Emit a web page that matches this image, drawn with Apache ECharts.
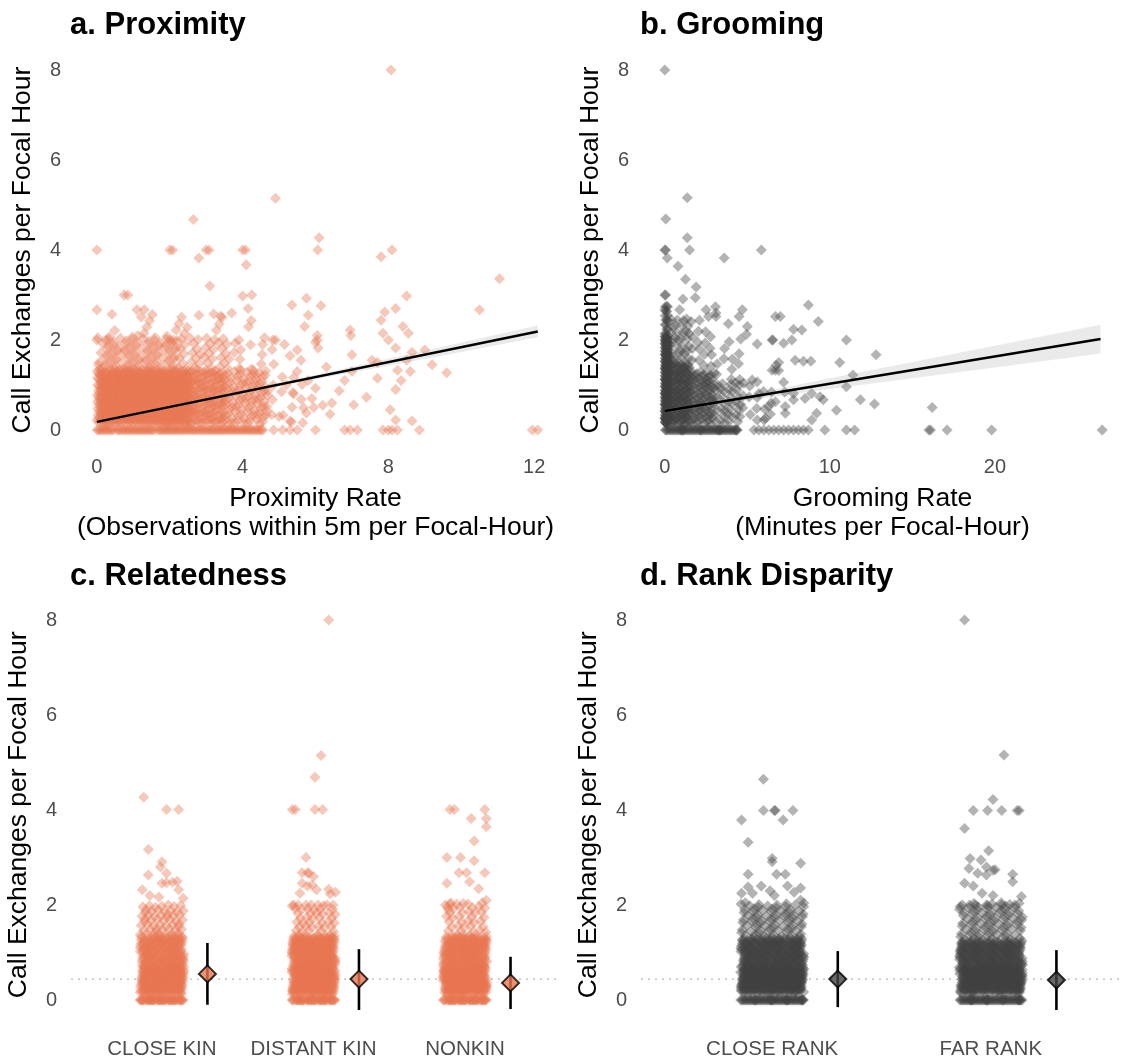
<!DOCTYPE html>
<html>
<head>
<meta charset="utf-8">
<script src="https://cdn.jsdelivr.net/npm/echarts@6/dist/echarts.min.js"></script>
<style>
html,body{margin:0;padding:0;background:#fff;}
#chart{width:1122px;height:1061px;}
</style>
</head>
<body>
<div id="chart"></div>
<script>
// ---------------- DATA ----------------
const yTicks = [0, 2, 4, 6, 8];
const proxTicks = [0, 4, 8, 12];
const groomTicks = [0, 10, 20];
const relCats = ['CLOSE KIN', 'DISTANT KIN', 'NONKIN'];
const rankCats = ['CLOSE RANK', 'FAR RANK'];

// Panel a: individual (sparse) points [proximity rate, call exchanges]
const proxPoints = [
 [8.07,8.0],[4.9,5.15],[2.65,4.68],[6.1,4.27],[0,4.0],[2.0,4.0],[2.08,4.0],[3.0,4.0],[3.08,4.0],[4.0,4.0],[4.08,4.0],[6.06,4.0],[8.1,4.0],
 [2.8,3.82],[4.1,3.67],[7.8,3.85],[11.05,3.36],[3.1,3.2],[4.0,2.98],[4.25,3.0],[0.75,3.0],[0.85,3.0],[5.35,2.78],[5.75,2.93],[6.15,2.76],
 [0,2.67],[1.1,2.67],[1.3,2.67],[10.5,2.67],[8.2,2.7],[8.5,2.98],[7.9,2.62],[2.8,2.55],[3.4,2.53],[3.7,2.6],[4.15,2.7],[5.7,2.3],[5.8,2.55],
 [6.95,2.22],[6.97,2.1],[7.8,2.44],[7.85,2.15],[8.0,2.0],[8.2,1.82],[8.4,2.3],[8.55,2.15],[7.0,1.67],[7.55,1.55],[7.7,1.5],[7.7,1.15],
 [8.25,1.33],[8.2,0.9],[8.35,1.1],[8.5,1.55],[8.6,1.3],[8.65,1.73],[9.0,1.78],[9.2,1.45],[9.6,1.27],[8.05,0.45],[8.2,0.22],[8.65,0.2],
 [6.65,0.87],[7.05,0.56],[6.45,0.6],[7.4,0.73],[7.0,1.3],[6.8,1.1],[6.0,0.93],[5.95,0.5],[6.2,0.55],[5.75,0.38],[6.05,2.1],[6.07,1.82],
 [6.0,1.95],[6.05,2.0],[5.15,1.9],[5.5,1.78],[5.6,1.55],[5.3,1.65],[4.9,2.0],[4.6,2.05],[4.55,1.9],[5.2,1.0],[5.4,0.8],[5.5,1.3],[5.8,1.1],
 [6.3,1.4],[5.0,0.3],[5.3,0.2],[6.4,0.35],[5.9,0.7],[0,2.0],[0.25,2.0],[2.0,2.0],[2.1,2.0],[3.9,2.0],
 [5.3,0],[5.5,0],[6.0,0],[6.8,0],[6.95,0],[7.15,0],[7.85,0],[8.0,0],[8.1,0],[8.25,0],[8.85,0],[11.95,0],[12.1,0],[4.85,0],[5.1,0]
];
// Panel a: dense core read as counts per region [xFrom, xTo, yFrom, yTo, count]
const proxDensity = [
 [0, 4.6, 0, 0, 100],
 [0, 2.6, 0.12, 1.35, 620],
 [2.6, 3.5, 0.12, 1.35, 130],
 [3.5, 4.7, 0.12, 1.35, 100],
 [0, 2.2, 1.35, 2.1, 90],
 [2.2, 3.8, 1.35, 2.1, 40],
 [3.8, 5.0, 1.35, 2.1, 10],
 [0.4, 4.3, 2.1, 2.6, 18],
 [4.7, 5.8, 0.12, 1.3, 14]
];
const proxFitX = [0, 12.1];
const proxFitY = [0.18, 2.19];
const proxBandX = [0, 3, 6, 9, 12.1];
const proxBandHi = [0.22, 0.71, 1.23, 1.76, 2.32];
const proxBandLo = [0.14, 0.65, 1.13, 1.58, 2.06];

// Panel b: individual (sparse) points [grooming rate, call exchanges]
const groomPoints = [
 [0,8.0],[0.06,4.69],[1.36,5.16],[1.36,4.27],[0,4.0],[0.05,4.0],[1.5,4.0],[5.85,4.0],[0.15,3.82],[3.6,3.82],[0.8,3.64],[1.25,3.35],
 [1.9,3.18],[0,3.0],[0.05,3.0],[1.1,2.91],[1.85,2.94],[8.7,2.78],[0,2.67],[0.9,2.67],[2.5,2.67],[3.07,2.74],[3.1,2.6],[4.7,2.67],
 [6.7,2.52],[7.0,2.52],[9.3,2.41],[8.3,2.22],[7.8,2.24],[11.0,2.0],[6.5,2.0],[6.55,2.0],[7.2,1.93],[7.7,2.0],[12.8,1.67],[10.6,1.5],
 [7.9,1.55],[8.4,1.53],[8.85,1.53],[6.5,1.33],[6.75,1.44],[6.9,1.32],[7.2,1.06],[11.4,1.22],[11.0,0.96],[11.85,0.67],[12.7,0.58],
 [16.2,0.5],[8.9,0.81],[9.4,0.74],[9.6,0.67],[7.8,0.67],[7.3,0.52],[7.3,0.37],[9.2,0.37],[8.9,0.22],[10.4,0.44],
 [3.85,2.36],[4.5,2.52],[5.0,2.3],[4.6,2.02],[5.6,1.91],[4.95,2.13],[3.1,2.52],[2.65,2.52],[2.1,2.44],[1.6,2.41],[3.9,1.96],
 [5.6,1.07],[5.3,1.11],[6.7,1.33],[6.9,1.5],[7.27,0.84],[7.8,0.81],[8.5,0.7],[5.7,0.81],[6.3,0.52],[6.7,0.63],[5.6,0.22],[6.1,0.26],
 [5.4,0],[5.7,0],[6.0,0],[6.3,0],[6.6,0],[6.9,0],[7.2,0],[7.5,0],[7.8,0],[8.1,0],[8.4,0],[8.7,0],[9.7,0],[11.0,0],[11.5,0],
 [16.0,0],[16.1,0],[17.1,0],[19.8,0],[26.5,0]
];
const groomDensity = [
 [0, 4.4, 0, 0, 60],
 [0, 0.2, 0.12, 2.1, 200],
 [0.2, 1.5, 0.12, 1.5, 160],
 [0.2, 1.5, 1.5, 2.5, 32],
 [1.5, 3.0, 0.12, 1.3, 90],
 [1.5, 3.0, 1.3, 2.2, 16],
 [3.0, 4.8, 0.12, 1.1, 40],
 [3.0, 4.8, 1.1, 1.9, 10],
 [4.8, 6.5, 0.12, 1.0, 11],
 [0, 0.2, 2.1, 2.8, 16]
];
const groomFitX = [0, 26.4];
const groomFitY = [0.42, 2.02];
const groomBandX = [0, 5, 10, 15, 20, 26.4];
const groomBandHi = [0.46, 0.78, 1.15, 1.51, 1.87, 2.34];
const groomBandLo = [0.38, 0.66, 0.91, 1.15, 1.39, 1.70];

// Panel c: sparse points [jitter offset, value] and dense bands [yFrom, yTo, count]
const closeKinPoints = [[-0.12,4.27],[0.03,4.01],[0.11,4.01],[-0.09,3.17],[0.0,2.91],[-0.01,2.8],[0.03,2.67],[-0.09,2.63],[0.07,2.48],[0.1,2.5],
 [0.0,2.46],[0.03,2.47],[-0.13,2.32],[0.11,2.32],[-0.08,2.2],[-0.02,2.17],[0.14,2.14]];
const distantKinPoints = [[0.10,8.0],[0.05,5.15],[0.01,4.69],[-0.14,4.01],[-0.12,4.01],[0.01,4.01],[0.06,4.01],[-0.05,3.0],[-0.075,2.68],
 [-0.04,2.68],[-0.03,2.67],[0.0,2.6],[-0.075,2.46],[-0.04,2.4],[-0.01,2.42],[0.02,2.32],[0.10,2.33],[-0.09,2.25],[0.11,2.23],[0.145,2.27],
 [-0.13,2.0],[-0.1,2.0],[-0.05,2.0],[0.03,2.0],[0.09,2.0],[0.13,2.0]];
const nonkinPoints = [[-0.10,4.01],[-0.07,4.01],[0.13,4.01],[0.04,3.82],[0.14,3.82],[0.14,3.65],[0.06,3.35],[-0.12,3.0],[-0.03,3.0],
 [0.06,2.93],[-0.04,2.68],[0.01,2.68],[0.13,2.68],[-0.12,2.46],[0.03,2.49],[0.09,2.34],[0.14,2.1],[-0.1,2.02],[-0.055,2.02],[0.02,2.02],
 [-0.13,2.0],[-0.11,1.9]];
const closeKinBands = [[0,0,45],[0.12,0.7,190],[0.7,1.35,160],[1.35,2.05,55]];
const distantKinBands = [[0,0,45],[0.12,0.7,210],[0.7,1.35,200],[1.35,2.0,40]];
const nonkinBands = [[0,0,45],[0.12,0.7,210],[0.7,1.35,180],[1.35,2.05,36]];
const relMean = [0.55, 0.44, 0.36];
const relLow = [-0.10, -0.21, -0.19];
const relHigh = [1.20, 1.07, 0.91];

// Panel d
const closeRankPoints = [[-0.04,4.65],[-0.04,3.99],[0.01,3.99],[0.014,3.99],[0.095,3.99],[-0.14,3.79],[0.05,3.79],[-0.11,3.32],
 [0.0,2.98],[0.0,2.91],[0.13,2.88],[-0.11,2.65],[0.02,2.65],[0.06,2.65],[-0.11,2.38],[-0.05,2.4],[-0.01,2.3],[0.07,2.4],[0.1,2.27],
 [0.13,2.36],[-0.14,2.25],[-0.09,2.25],[0.01,2.2],[0.13,2.1],[0.145,2.04]];
const farRankPoints = [[-0.12,8.0],[0.06,5.16],[0.01,4.22],[-0.08,3.99],[-0.015,3.99],[0.05,3.99],[0.12,3.99],[0.13,3.99],[-0.12,3.61],
 [-0.01,3.14],[-0.095,2.98],[-0.045,2.95],[-0.02,2.8],[0.01,2.73],[0.1,2.65],[-0.1,2.77],[-0.06,2.67],[-0.02,2.63],[0.02,2.74],
 [-0.12,2.46],[-0.08,2.4],[0.1,2.49],[-0.04,2.25],[0.01,2.2],[0.14,2.18],[-0.13,2.0],[-0.07,2.0],[-0.02,2.0],[0.05,2.0],[0.11,2.0]];
const closeRankBands = [[0,0,60],[0.15,0.7,300],[0.7,1.3,240],[1.3,2.05,80]];
const farRankBands = [[0,0,60],[0.15,0.7,290],[0.7,1.25,220],[1.25,2.05,85]];
const rankMean = [0.44, 0.42];
const rankLow = [-0.15, -0.21];
const rankHigh = [1.03, 1.05];

const overallMean = 0.44;

// ---------------- BUILD ----------------
const FONT = 'Liberation Sans, Arial, Helvetica, sans-serif';
const ORANGE = 'rgba(232,117,80,0.5)';
const ORANGE_SOLID = 'rgb(232,117,80)';
const GREY = 'rgba(66,66,66,0.5)';
const GREY_SOLID = 'rgb(68,68,68)';
const JIT = 0.145;      // half jitter width (category units)
const NUDGE = 0.3;      // summary offset (category units)
const PT = 11;          // point size

const G1 = 0.7548776662466927, G2 = 0.5698402909980532;
function frac(v) { return v - Math.floor(v); }
// spread a region count into positions (deterministic low-discrepancy placement)
function expandDensity(cells, seed) {
  const out = [];
  cells.forEach((c, ci) => {
    const [x0, x1, y0, y1, n] = c;
    for (let k = 1; k <= n; k++) {
      const u = frac(seed + ci * 0.37 + k * G1);
      const v = frac(seed * 0.61 + ci * 0.23 + k * G2);
      out.push([x0 + u * (x1 - x0), y0 + v * (y1 - y0)]);
    }
  });
  return out;
}
function expandGroup(pos, bands, points, seed) {
  const out = [];
  bands.forEach((b, bi) => {
    const [y0, y1, n] = b;
    for (let k = 1; k <= n; k++) {
      const u = frac(seed + bi * 0.41 + k * G1);
      const v = frac(seed * 0.53 + bi * 0.29 + k * G2);
      out.push([pos + (u - 0.5) * 2 * JIT, y0 + v * (y1 - y0)]);
    }
  });
  points.forEach(p => out.push([pos + p[0], p[1]]));
  return out;
}

const proxData = expandDensity(proxDensity, 0.11).concat(proxPoints);
const groomData = expandDensity(groomDensity, 0.47).concat(groomPoints);
const relData = [].concat(
  expandGroup(1, closeKinBands, closeKinPoints, 0.13),
  expandGroup(2, distantKinBands, distantKinPoints, 0.59),
  expandGroup(3, nonkinBands, nonkinPoints, 0.83));
const rankData = [].concat(
  expandGroup(1, closeRankBands, closeRankPoints, 0.21),
  expandGroup(2, farRankBands, farRankPoints, 0.67));

const yTitle = 'Call Exchanges per Focal Hour';
function yAxis(gi, min, max) {
  return {
    type: 'value', gridIndex: gi, min: min, max: max,
    name: yTitle, nameLocation: 'middle', nameGap: 39,
    nameTextStyle: { fontSize: 26.5, color: '#000', fontFamily: FONT },
    axisLine: { show: false }, axisTick: { show: false }, splitLine: { show: false },
    axisLabel: { customValues: yTicks, fontSize: 20, color: '#4d4d4d', margin: 14, fontFamily: FONT }
  };
}
function xAxisNum(gi, min, max, ticks, name) {
  return {
    type: 'value', gridIndex: gi, min: min, max: max,
    name: name, nameLocation: 'middle', nameGap: 36,
    nameTextStyle: { fontSize: 26.5, color: '#000', fontFamily: FONT, lineHeight: 29 },
    axisLine: { show: false }, axisTick: { show: false }, splitLine: { show: false },
    axisLabel: { customValues: ticks, fontSize: 20, color: '#4d4d4d', margin: 9, fontFamily: FONT }
  };
}
function xAxisCat(gi, cats) {
  return {
    type: 'value', gridIndex: gi, min: 0.4, max: cats.length + 0.6,
    axisLine: { show: false }, axisTick: { show: false }, splitLine: { show: false },
    axisLabel: {
      customValues: cats.map((c, i) => i + 1),
      formatter: v => cats[Math.round(v) - 1] || '',
      fontSize: 20.5, color: '#4d4d4d', margin: 10, fontFamily: FONT
    }
  };
}
function scatter(idx, data, color) {
  return { type: 'scatter', xAxisIndex: idx, yAxisIndex: idx, data: data, symbol: 'diamond',
    symbolSize: PT, itemStyle: { color: color }, silent: true, z: 2 };
}
function band(idx, xs, hi, lo) {
  return {
    type: 'custom', xAxisIndex: idx, yAxisIndex: idx, data: [[xs[0], hi[0]]], silent: true, z: 3,
    renderItem: (params, api) => {
      const pts = [];
      xs.forEach((x, i) => pts.push(api.coord([x, hi[i]])));
      for (let i = xs.length - 1; i >= 0; i--) pts.push(api.coord([xs[i], lo[i]]));
      return { type: 'polygon', shape: { points: pts }, style: { fill: 'rgba(150,150,150,0.2)' } };
    }
  };
}
function fitLine(idx, xs, ys) {
  return { type: 'line', xAxisIndex: idx, yAxisIndex: idx, data: xs.map((x, i) => [x, ys[i]]),
    symbol: 'none', lineStyle: { color: '#000', width: 2.5 }, silent: true, z: 4 };
}
function refLine(idx, ncat) {
  return { type: 'line', xAxisIndex: idx, yAxisIndex: idx, data: [[0.4, overallMean], [ncat + 0.6, overallMean]],
    symbol: 'none', lineStyle: { color: '#b8b8b8', width: 1.2, type: [2, 5] }, silent: true, z: 1 };
}
function errBars(idx, mean, lo, hi) {
  return {
    type: 'custom', xAxisIndex: idx, yAxisIndex: idx, silent: true, z: 5,
    data: mean.map((m, i) => [i + 1 + NUDGE, lo[i], hi[i]]),
    encode: { x: 0, y: [1, 2] },
    renderItem: (params, api) => {
      const a = api.coord([api.value(0), api.value(1)]);
      const b = api.coord([api.value(0), api.value(2)]);
      return { type: 'line', shape: { x1: a[0], y1: a[1], x2: b[0], y2: b[1] },
        style: { stroke: '#000', lineWidth: 2.6 } };
    }
  };
}
function summary(idx, mean, fill) {
  return { type: 'scatter', xAxisIndex: idx, yAxisIndex: idx, data: mean.map((m, i) => [i + 1 + NUDGE, m]),
    symbol: 'diamond', symbolSize: 17, itemStyle: { color: fill, borderColor: '#000', borderWidth: 2 },
    silent: true, z: 6 };
}

const titleStyle = { fontSize: 31, fontWeight: 'bold', color: '#000', fontFamily: FONT };
const option = {
  animation: false,
  backgroundColor: '#fff',
  title: [
    { text: 'a. Proximity', left: 70, top: 10, padding: 0, textStyle: titleStyle },
    { text: 'b. Grooming', left: 640, top: 10, padding: 0, textStyle: titleStyle },
    { text: 'c. Relatedness', left: 70, top: 561, padding: 0, textStyle: titleStyle },
    { text: 'd. Rank Disparity', left: 640, top: 561, padding: 0, textStyle: titleStyle }
  ],
  grid: [
    { left: 75, top: 52, width: 481, height: 396 },
    { left: 643, top: 52, width: 483, height: 396 },
    { left: 71, top: 601, width: 485, height: 427.5 },
    { left: 641, top: 601, width: 487, height: 427.5 }
  ],
  xAxis: [
    xAxisNum(0, -0.6, 12.6, proxTicks, 'Proximity Rate\n(Observations within 5m per Focal-Hour)'),
    xAxisNum(1, -1.32, 27.7, groomTicks, 'Grooming Rate\n(Minutes per Focal-Hour)'),
    xAxisCat(2, relCats),
    xAxisCat(3, rankCats)
  ],
  yAxis: [
    yAxis(0, -0.4, 8.4),
    yAxis(1, -0.4, 8.4),
    yAxis(2, -0.6, 8.4),
    yAxis(3, -0.6, 8.4)
  ],
  series: [
    scatter(0, proxData, ORANGE),
    band(0, proxBandX, proxBandHi, proxBandLo),
    fitLine(0, proxFitX, proxFitY),
    scatter(1, groomData, GREY),
    band(1, groomBandX, groomBandHi, groomBandLo),
    fitLine(1, groomFitX, groomFitY),
    refLine(2, 3),
    scatter(2, relData, ORANGE),
    errBars(2, relMean, relLow, relHigh),
    summary(2, relMean, ORANGE_SOLID),
    refLine(3, 2),
    scatter(3, rankData, GREY),
    errBars(3, rankMean, rankLow, rankHigh),
    summary(3, rankMean, GREY_SOLID)
  ]
};
const chart = echarts.init(document.getElementById('chart'), null, { renderer: 'canvas' });
chart.setOption(option);
</script>
</body>
</html>
